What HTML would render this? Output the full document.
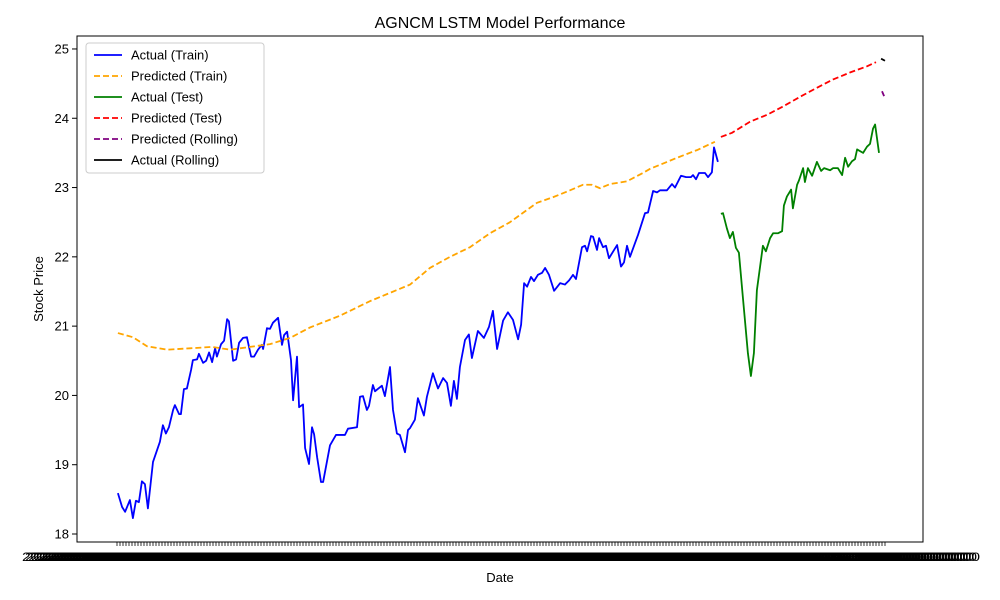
<!DOCTYPE html>
<html><head><meta charset="utf-8"><style>
body{margin:0;background:#fff;}
svg{display:block;font-family:"Liberation Sans","DejaVu Sans",sans-serif;}
</style></head><body>
<svg id="chart" width="1000" height="600" viewBox="0 0 1000 600">
<rect width="1000" height="600" fill="#fff"/>
<text x="500" y="28" font-size="16" text-anchor="middle">AGNCM LSTM Model Performance</text>
<text x="500" y="582" font-size="13" text-anchor="middle">Date</text>
<text x="0" y="0" font-size="13" text-anchor="middle" transform="translate(43,289) rotate(-90)">Stock Price</text>
<g id="xticks"></g><g id="yticks"></g><g id="series"></g>
<rect x="77" y="36" width="846" height="506" fill="none" stroke="#000" stroke-width="1"/>
<g id="legend">
<rect x="86" y="43" width="178" height="130" rx="3" fill="#fff" fill-opacity="0.8" stroke="#ccc"/>
</g>
</svg>
<script>
const trainT=[0.3,1.7,2.7,4.3,5.3,6.3,7.3,8.3,9.3,10.3,12,14.3,15.3,16.3,17.3,18.7,19.3,20.7,21.3,22.3,23.3,24.7,25.3,26.7,27.3,28.7,29.7,30.7,31.7,32.7,33.3,34.7,35.7,36.7,37.3,38.7,39.7,40.7,42,43.3,44.7,45.7,47,48.3,48.7,50,51,52,53.7,55,55.7,56.7,58,58.7,60,60.7,62,62.7,64,65,65.7,66.7,68,68.7,71,73,76,77,80,81,82,83.3,84,85.3,86,88.3,89.3,91,92,93.3,94.3,96,97,97.7,99.3,100.3,102.3,103.3,105.3,107,108.7,110,111.3,112.3,113.3,114.3,116,117.3,118.3,120.3,122.3,124,125.3,126.7,128.7,130.3,132,133.7,134.7,135.7,136.7,138,139,140.3,141.7,142.7,144,145.7,147.7,149.3,150.7,152,153,155,156,156.7,158,158.7,160,160.7,162,163,164,166.7,168,169,170,171,173.7,176,177,178.7,180,181,183.3,185,186,188,189.7,191.3,192,193,194,196,197,198.3,199,200.3];
const trainV=[18.59,18.39,18.32,18.49,18.23,18.48,18.46,18.76,18.72,18.37,19.04,19.33,19.57,19.45,19.54,19.79,19.86,19.73,19.73,20.09,20.1,20.37,20.51,20.52,20.6,20.47,20.5,20.62,20.48,20.68,20.56,20.74,20.79,21.1,21.07,20.5,20.52,20.76,20.83,20.84,20.56,20.56,20.66,20.73,20.67,20.97,20.96,21.05,21.12,20.73,20.87,20.92,20.51,19.93,20.56,19.83,19.87,19.24,19.01,19.54,19.44,19.11,18.75,18.75,19.28,19.43,19.43,19.52,19.54,19.98,19.99,19.79,19.85,20.15,20.06,20.14,19.99,20.41,19.79,19.45,19.43,19.18,19.5,19.53,19.65,19.96,19.71,19.98,20.32,20.1,20.25,20.18,19.85,20.21,19.95,20.41,20.8,20.88,20.54,20.93,20.83,20.99,21.22,20.67,21.08,21.2,21.09,20.81,21.02,21.62,21.57,21.71,21.65,21.74,21.77,21.84,21.74,21.51,21.62,21.6,21.66,21.74,21.68,22.14,22.16,22.08,22.3,22.29,22.1,22.27,22.14,22.16,21.98,22.17,21.86,21.92,22.16,22.0,22.32,22.63,22.64,22.95,22.93,22.96,22.96,23.05,23.0,23.17,23.15,23.15,23.18,23.12,23.21,23.21,23.15,23.22,23.58,23.37];
const predTrainT=[0.3,5.3,10,16.7,24.3,31.7,37.7,44.3,51,57.7,64.3,74.3,84.3,97.7,104.3,111,117.7,124.3,131,140,145.3,151,155.3,158.3,161,164.3,170,175.3,177.7,186.7,193.3,199.3];
const predTrainV=[20.9,20.84,20.71,20.66,20.68,20.7,20.66,20.7,20.74,20.83,20.98,21.15,21.36,21.6,21.84,22.0,22.14,22.34,22.5,22.78,22.86,22.96,23.04,23.04,22.99,23.05,23.09,23.21,23.27,23.43,23.54,23.66];
const testT=[201.3,202,203.3,204.3,205.3,206.3,207.3,208.7,210.3,211.3,212.3,213.3,215.3,216.3,217.7,218.7,220.3,221.7,222.3,223.3,224.7,225.3,226.7,227.3,228.7,229.3,230.3,231.7,233.3,234.7,235.7,237.7,238.7,240.3,241.7,242.7,243.7,245,246,246.7,248.7,250,251,252,252.7,254];
const testV=[22.62,22.63,22.41,22.27,22.36,22.13,22.06,21.38,20.61,20.28,20.61,21.52,22.16,22.08,22.27,22.34,22.34,22.37,22.74,22.87,22.97,22.7,23.04,23.1,23.28,23.08,23.28,23.17,23.37,23.24,23.28,23.25,23.28,23.28,23.18,23.43,23.3,23.38,23.41,23.55,23.5,23.59,23.63,23.85,23.91,23.5];
const predTestT=[201.3,205,211,216.7,222,227.7,233.3,238.7,244.3,250,253];
const predTestV=[23.73,23.79,23.95,24.05,24.17,24.31,24.44,24.56,24.66,24.75,24.81];
const rollPredT=[255,255.7];
const rollPredV=[24.39,24.32];
const rollActT=[254.7,256];
const rollActV=[24.86,24.83];
const yTicks=[18,19,20,21,22,23,24,25];
const nDates=257;

const NS="http://www.w3.org/2000/svg";
const X=t=>117+t*3;
const Y=v=>534-(v-18)*69.29;
function mk(tag,attrs,parent){const e=document.createElementNS(NS,tag);for(const k in attrs)e.setAttribute(k,attrs[k]);parent.appendChild(e);return e;}
const yg=document.getElementById('yticks');
yTicks.forEach(v=>{
  const l=mk('line',{x1:72,x2:77,y1:Y(v),y2:Y(v),stroke:'#000'},yg);
  
  
  const t=mk('text',{x:69,y:Y(v)+4.5,'font-size':13,'text-anchor':'end'},yg);
  t.textContent=String(v);
  
  
});
const xg=document.getElementById('xticks');
const d0=new Date(Date.UTC(2022,0,3));
for(let i=0;i<nDates;i++){
  const l=mk('line',{x1:X(i),x2:X(i),y1:542,y2:546,stroke:'#000','stroke-width':0.8},xg);
  
  
  const d=new Date(d0.getTime()+i*86400000*1.4);
  const t=mk('text',{x:X(i),y:561,'font-size':12,'text-anchor':'middle',textLength:190,lengthAdjust:'spacingAndGlyphs'},xg);
  t.textContent=d.toISOString().slice(0,10)+' 00:00:00+00:00';
  
  
}
const sg=document.getElementById('series');
function line(ts,vs,color,dash,name){
  const p=mk('polyline',{points:ts.map((t,i)=>X(t)+','+Y(vs[i])).join(' '),fill:'none',stroke:color,'stroke-width':1.8,'stroke-dasharray':dash||'none','stroke-linejoin':'round'},sg);
  
  
}
line(trainT,trainV,'#0000ff','', 'actual-train-line');
line(predTrainT,predTrainV,'#ffa500','6,3','predicted-train-line');
line(testT,testV,'#008000','', 'actual-test-line');
line(predTestT,predTestV,'#ff0000','6,3','predicted-test-line');
line(rollPredT,rollPredV,'#800080','6,3','predicted-rolling-line');
line(rollActT,rollActV,'#000000','', 'actual-rolling-line');
const lg=document.getElementById('legend');
const items=[['Actual (Train)','#0000ff',''],['Predicted (Train)','#ffa500','6,3'],['Actual (Test)','#008000',''],['Predicted (Test)','#ff0000','6,3'],['Predicted (Rolling)','#800080','6,3'],['Actual (Rolling)','#000','']];
items.forEach((it,i)=>{
  const y=55+i*21;
  const g=mk('g',{},lg);
  
  
  mk('line',{x1:94,x2:122,y1:y,y2:y,stroke:it[1],'stroke-width':1.8,'stroke-dasharray':it[2]||'none'},g);
  const t=mk('text',{x:131,y:y+4.5,'font-size':13},g);
  t.textContent=it[0];
});
</script>
</body></html>
